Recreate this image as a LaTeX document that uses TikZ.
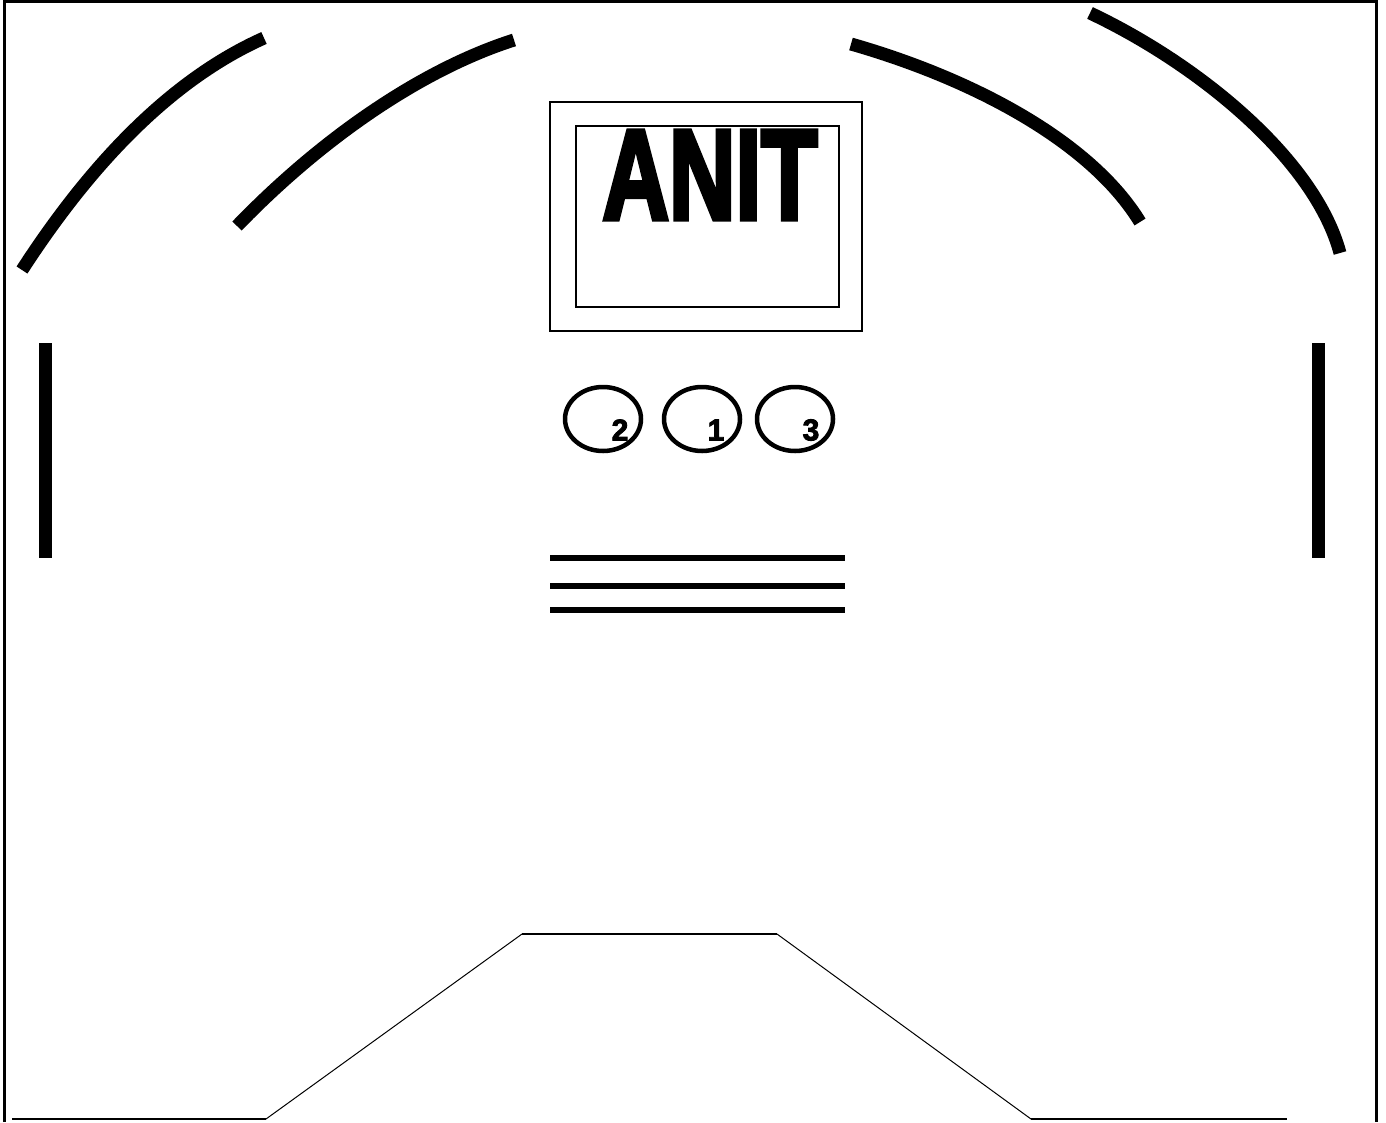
\documentclass[tikz,border=0pt]{standalone}
\usepackage{fontspec}
\setmainfont{Liberation Sans}
\newfontfamily\anitfont[FakeBold=4]{Liberation Sans}
\newfontfamily\digitfont[FakeBold=3]{Liberation Sans}
\usetikzlibrary{shapes.geometric}
\begin{document}
\begin{tikzpicture}[x=1pt,y=-1pt,
  arcstroke/.style={line width=13pt,line cap=butt},
  barstroke/.style={line width=13pt,line cap=butt},
  oval/.style={draw,line width=4.5pt,ellipse,minimum width=76pt,minimum height=64pt,inner sep=0pt},
  digit/.style={font=\digitfont\bfseries\fontsize{30}{30}\selectfont,inner sep=0pt},
  stripe/.style={line width=5.5pt},
  floorline/.style={line width=2pt},
  slope/.style={line width=1pt}]
\useasboundingbox (0,0) rectangle (1386,1122);
% frame
\draw[line width=3pt] (4,1122) -- (4,1.5) -- (1376.5,1.5) -- (1376.5,1122);
% arcs
\draw[arcstroke] (22,270) .. controls (90,165) and (170,80) .. (264,38);
\draw[arcstroke] (237,226) .. controls (320,140) and (420,70) .. (514,40);
\draw[arcstroke] (851,44) .. controls (970,78) and (1090,140) .. (1140,222);
\draw[arcstroke] (1090,13) .. controls (1200,65) and (1315,160) .. (1340,253);
% side bars
\draw[barstroke] (45.5,343) -- (45.5,558);
\draw[barstroke] (1318.5,343) -- (1318.5,558);
% sign
\node[draw,line width=1.5pt,minimum width=312pt,minimum height=229pt,inner sep=0pt,anchor=north west] (outerbox) at (549,101) {};
\node[draw,line width=2pt,minimum width=263pt,minimum height=181pt,inner sep=0pt,anchor=north west] (innerbox) at (575,125) {};
\node[font=\anitfont\bfseries\fontsize{128}{128}\selectfont,xscale=0.72,inner sep=0pt,anchor=base] (anit) at (710,219) {ANIT};
% ovals
\node[oval] (o2) at (603,419) {};
\node[oval] (o1) at (702,419) {};
\node[oval] (o3) at (795,419) {};
\node[digit] (d2) at (620,430) {2};
\node[digit] (d1) at (716,430) {1};
\node[digit] (d3) at (811,430) {3};
% stripes
\coordinate (s1a) at (550,558); \coordinate (s1b) at (845,558);
\coordinate (s2a) at (550,586); \coordinate (s2b) at (845,586);
\coordinate (s3a) at (550,610); \coordinate (s3b) at (845,610);
\draw[stripe] (s1a) -- (s1b);
\draw[stripe] (s2a) -- (s2b);
\draw[stripe] (s3a) -- (s3b);
% floor
\coordinate (f1) at (12,1119);
\coordinate (f2) at (266,1119);
\coordinate (f3) at (522,934);
\coordinate (f4) at (777,934);
\coordinate (f5) at (1031,1119);
\coordinate (f6) at (1287,1119);
\draw[floorline] (f1) -- (f2);
\draw[slope] (f2) -- (f3);
\draw[floorline] (f3) -- (f4);
\draw[slope] (f4) -- (f5);
\draw[floorline] (f5) -- (f6);
\end{tikzpicture}
\end{document}
